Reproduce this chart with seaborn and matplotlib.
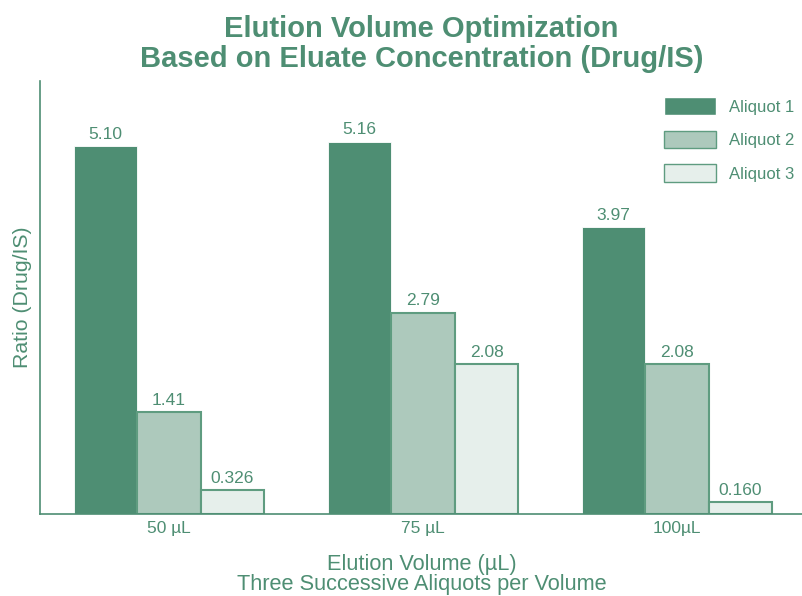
import numpy as np
import pandas as pd
import matplotlib.pyplot as plt
import seaborn as sns

# Data
volumes = ["50 \u00b5L", "75 \u00b5L", "100\u00b5L"]
aliquots = ["Aliquot 1", "Aliquot 2", "Aliquot 3"]
aliquot1 = [5.10, 5.16, 3.97]
aliquot2 = [1.41, 2.79, 2.08]
aliquot3 = [0.326, 2.08, 0.160]
value_labels = [["5.10", "5.16", "3.97"], ["1.41", "2.79", "2.08"], ["0.326", "2.08", "0.160"]]

df = pd.DataFrame({
    "Volume": volumes * 3,
    "Aliquot": np.repeat(aliquots, 3),
    "Ratio": aliquot1 + aliquot2 + aliquot3,
})

green = "#4e8e73"
fills = ["#4e8e73", "#adc9bc", "#e6efeb"]
edges = ["#4e8e73", "#5f9c80", "#5f9c80"]

sns.set_style("white")
plt.rcParams["font.family"] = ["Liberation Sans", "DejaVu Sans"]

fig = plt.figure(figsize=(8.03, 5.96), dpi=100)
ax = fig.add_axes([0.0498, 0.1376, 0.9502, 0.7265])

sns.barplot(data=df, x="Volume", y="Ratio", hue="Aliquot", order=volumes,
            hue_order=aliquots, palette=fills, width=0.75, saturation=1,
            ax=ax)

for i, cont in enumerate(ax.containers):
    for bar in cont:
        bar.set_edgecolor(edges[i] if i else "#ffffff")
        bar.set_linewidth(1.5 if i else 0.6)
    ax.bar_label(cont, labels=value_labels[i], padding=3, fontsize=12.5, color=green)

ax.set_ylim(0, 6)
ax.set_xlim(-0.508, 2.496)
ax.set_yticks([])
ax.tick_params(axis="x", length=0, labelsize=12.5, labelcolor=green, pad=5)

for s in ["top", "right"]:
    ax.spines[s].set_visible(False)
for s in ["left", "bottom"]:
    ax.spines[s].set_color(green)
    ax.spines[s].set_linewidth(1.2)

ax.set_ylabel("Ratio (Drug/IS)", fontsize=15.3, color=green, labelpad=6)
ax.set_xlabel("Elution Volume (\u00b5L)\nThree Successive Aliquots per Volume",
              fontsize=15.7, color=green, labelpad=13, linespacing=0.95)
ax.set_title("Elution Volume Optimization\nBased on Eluate Concentration (Drug/IS)",
             fontsize=21, fontweight="bold", color=green, pad=10, linespacing=1.1)

handles, labels = ax.get_legend_handles_labels()
for h, ec in zip(handles, edges):
    h.set_edgecolor(ec if ec != fills[0] else "#ffffff")
leg = ax.legend(handles, labels, loc="upper right", bbox_to_anchor=(1.009, 0.997),
                frameon=False, fontsize=12, handlelength=3.1, handleheight=1.25,
                labelspacing=0.95, handletextpad=0.8, labelcolor=green)

fig.savefig("out.png", dpi=100)
